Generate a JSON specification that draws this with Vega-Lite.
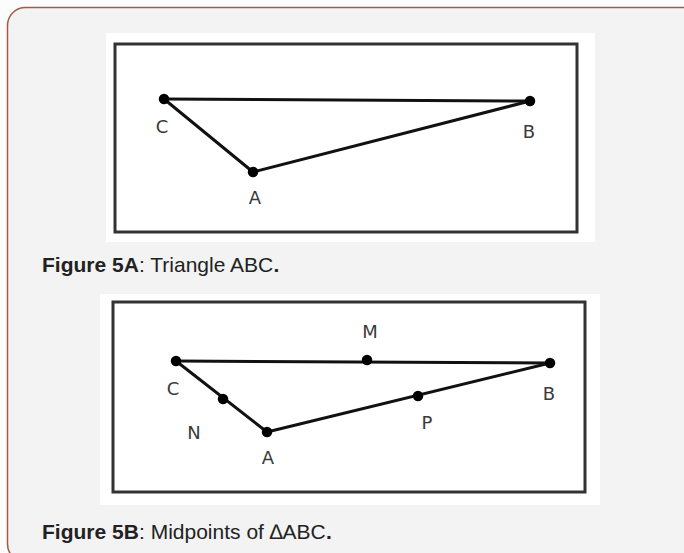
{
  "$schema": "https://vega.github.io/schema/vega-lite/v6.json",
  "width": 684,
  "height": 553,
  "padding": 0,
  "autosize": "none",
  "background": "#fcfcfc",
  "config": {"view": {"stroke": null}},
  "datasets": {
    "card": [{"x": 7.5, "x2": 720, "y": 7.5, "y2": 562}],
    "panels": [
      {"panel": "A", "x": 106, "x2": 595, "y": 33, "y2": 242},
      {"panel": "B", "x": 100, "x2": 600, "y": 294, "y2": 505}
    ],
    "frames": [
      {"panel": "A", "x": 115, "x2": 577, "y": 44, "y2": 232},
      {"panel": "B", "x": 113, "x2": 585, "y": 302, "y2": 492}
    ],
    "segments": [
      {"panel": "A", "side": "CB", "x": 164, "y": 99, "x2": 530, "y2": 101},
      {"panel": "A", "side": "CA", "x": 164, "y": 99, "x2": 253, "y2": 172},
      {"panel": "A", "side": "AB", "x": 253, "y": 172, "x2": 530, "y2": 101},
      {"panel": "B", "side": "CB", "x": 176, "y": 361, "x2": 550, "y2": 363},
      {"panel": "B", "side": "CA", "x": 176, "y": 361, "x2": 267, "y2": 432},
      {"panel": "B", "side": "AB", "x": 267, "y": 432, "x2": 550, "y2": 363}
    ],
    "points": [
      {"panel": "A", "name": "C", "x": 164, "y": 99},
      {"panel": "A", "name": "B", "x": 530, "y": 101},
      {"panel": "A", "name": "A", "x": 253, "y": 172},
      {"panel": "B", "name": "C", "x": 176, "y": 361},
      {"panel": "B", "name": "M", "x": 367, "y": 360},
      {"panel": "B", "name": "B", "x": 550, "y": 363},
      {"panel": "B", "name": "N", "x": 223, "y": 399},
      {"panel": "B", "name": "A", "x": 267, "y": 432},
      {"panel": "B", "name": "P", "x": 418, "y": 396}
    ],
    "labels": [
      {"panel": "A", "label": "C", "x": 162, "y": 128},
      {"panel": "A", "label": "B", "x": 529, "y": 133},
      {"panel": "A", "label": "A", "x": 255, "y": 199},
      {"panel": "B", "label": "M", "x": 370, "y": 333},
      {"panel": "B", "label": "C", "x": 173, "y": 390},
      {"panel": "B", "label": "B", "x": 549, "y": 395},
      {"panel": "B", "label": "N", "x": 194, "y": 434},
      {"panel": "B", "label": "P", "x": 427, "y": 424},
      {"panel": "B", "label": "A", "x": 268, "y": 459}
    ],
    "captions": [
      {"text": "Figure 5A", "weight": "bold", "x": 42, "y": 272},
      {"text": ": Triangle ABC", "weight": "normal", "x": 139, "y": 272},
      {"text": ".", "weight": "bold", "x": 273.5, "y": 272},
      {"text": "Figure 5B", "weight": "bold", "x": 42, "y": 539},
      {"text": ": Midpoints of ∆ABC", "weight": "normal", "x": 139, "y": 539},
      {"text": ".", "weight": "bold", "x": 326, "y": 539}
    ]
  },
  "layer": [
    {
      "data": {"name": "card"},
      "mark": {"type": "rect", "fill": "#f3f3f3", "stroke": "#a35c43", "strokeWidth": 1.5, "cornerRadius": 18},
      "encoding": {
        "x": {"field": "x", "type": "quantitative", "scale": {"domain": [0, 684], "nice": false, "zero": false}, "axis": null},
        "x2": {"field": "x2"},
        "y": {"field": "y", "type": "quantitative", "scale": {"domain": [0, 553], "nice": false, "zero": false, "reverse": true}, "axis": null},
        "y2": {"field": "y2"}
      }
    },
    {
      "data": {"name": "panels"},
      "mark": {"type": "rect", "fill": "#ffffff"},
      "encoding": {
        "x": {"field": "x", "type": "quantitative"},
        "x2": {"field": "x2"},
        "y": {"field": "y", "type": "quantitative"},
        "y2": {"field": "y2"}
      }
    },
    {
      "data": {"name": "frames"},
      "mark": {"type": "rect", "fill": null, "stroke": "#333333", "strokeWidth": 3},
      "encoding": {
        "x": {"field": "x", "type": "quantitative"},
        "x2": {"field": "x2"},
        "y": {"field": "y", "type": "quantitative"},
        "y2": {"field": "y2"}
      }
    },
    {
      "data": {"name": "segments"},
      "mark": {"type": "rule", "color": "#111111", "strokeWidth": 3, "strokeCap": "round"},
      "encoding": {
        "x": {"field": "x", "type": "quantitative"},
        "x2": {"field": "x2"},
        "y": {"field": "y", "type": "quantitative"},
        "y2": {"field": "y2"}
      }
    },
    {
      "data": {"name": "points"},
      "mark": {"type": "circle", "color": "#000000", "opacity": 1, "size": 110},
      "encoding": {
        "x": {"field": "x", "type": "quantitative"},
        "y": {"field": "y", "type": "quantitative"}
      }
    },
    {
      "data": {"name": "labels"},
      "mark": {"type": "text", "font": "DejaVu Sans", "fontSize": 18, "color": "#3a3a3a", "align": "center", "baseline": "middle"},
      "encoding": {
        "x": {"field": "x", "type": "quantitative"},
        "y": {"field": "y", "type": "quantitative"},
        "text": {"field": "label"}
      }
    },
    {
      "data": {"name": "captions"},
      "transform": [{"filter": "datum.weight === 'bold'"}],
      "mark": {"type": "text", "font": "Liberation Sans", "fontSize": 21, "fontWeight": "bold", "color": "#222222", "align": "left", "baseline": "alphabetic"},
      "encoding": {
        "x": {"field": "x", "type": "quantitative"},
        "y": {"field": "y", "type": "quantitative"},
        "text": {"field": "text"}
      }
    },
    {
      "data": {"name": "captions"},
      "transform": [{"filter": "datum.weight === 'normal'"}],
      "mark": {"type": "text", "font": "Liberation Sans", "fontSize": 21, "color": "#222222", "align": "left", "baseline": "alphabetic"},
      "encoding": {
        "x": {"field": "x", "type": "quantitative"},
        "y": {"field": "y", "type": "quantitative"},
        "text": {"field": "text"}
      }
    }
  ]
}
